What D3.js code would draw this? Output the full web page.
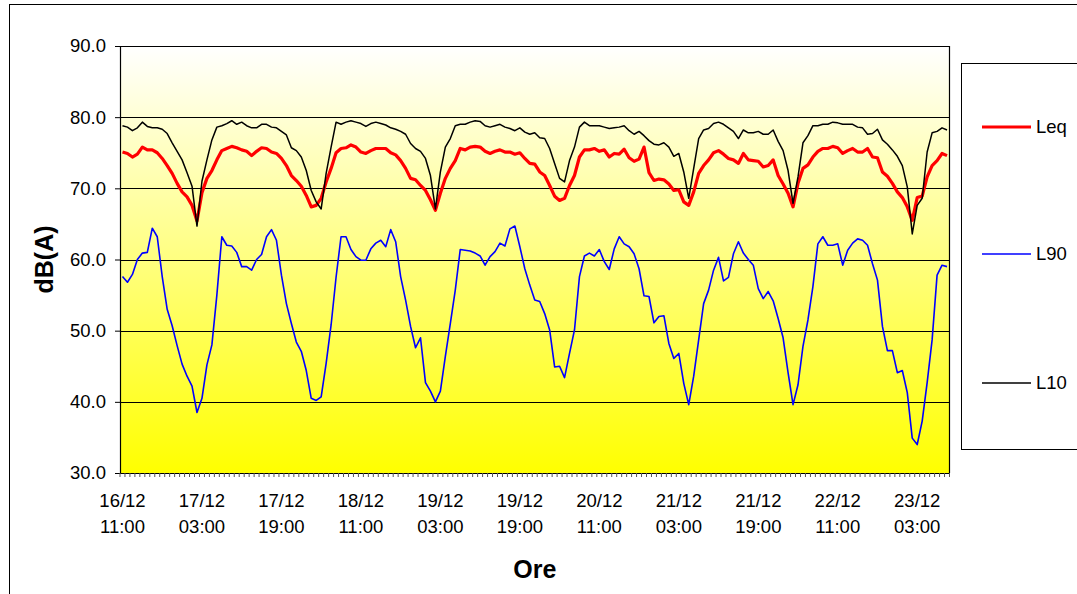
<!DOCTYPE html>
<html>
<head>
<meta charset="utf-8">
<script src="https://cdn.jsdelivr.net/npm/d3@7"></script>
<style>
  html, body { margin: 0; padding: 0; background: #ffffff; }
  svg { display: block; font-family: "Liberation Sans", Arial, sans-serif; }
</style>
</head>
<body>
<svg id="chart" width="1077" height="594"></svg>
<script>
// Hourly noise levels, dB(A)
const seriesNames = ["Leq", "L90", "L10"];
const seriesColors = ["#FF0000", "#0000FF", "#000000"];
const seriesWidths = [3.2, 1.6, 1.5];

const leq = [
  75.1, 74.9, 74.4, 74.8, 75.8, 75.4, 75.4, 75.0, 74.2, 73.2,
  72.1, 70.7, 69.5, 68.8, 67.6, 65.4, 69.4, 71.4, 72.5, 74.0,
  75.3, 75.6, 75.9, 75.7, 75.4, 75.2, 74.6, 75.2, 75.7, 75.6,
  75.1, 74.9, 74.2, 73.2, 71.8, 71.1, 70.3, 69.0, 67.4, 67.6,
  68.6, 70.9, 72.8, 75.0, 75.6, 75.7, 76.1, 75.8, 75.1, 74.9,
  75.3, 75.6, 75.6, 75.6, 75.0, 74.7, 73.9, 72.8, 71.4, 71.2,
  70.4, 69.7, 68.4, 66.9, 69.3, 71.4, 72.8, 73.9, 75.6, 75.4,
  75.8, 75.9, 75.8, 75.2, 74.9, 75.2, 75.4, 75.1, 75.1, 74.8,
  75.0, 74.2, 73.5, 73.4, 72.3, 71.8, 70.4, 68.9, 68.3, 68.6,
  70.4, 71.8, 74.4, 75.4, 75.4, 75.6, 75.2, 75.4, 74.4, 74.9,
  74.8, 75.5, 74.3, 73.8, 74.1, 75.8, 72.2, 71.1, 71.3, 71.2,
  70.6, 69.7, 69.8, 68.1, 67.6, 69.5, 72.1, 73.2, 74.0, 75.0,
  75.3, 74.8, 74.2, 74.0, 73.5, 74.9, 74.0, 73.9, 73.8, 73.0,
  73.2, 74.0, 71.8, 70.6, 69.3, 67.4, 70.7, 72.8, 73.3, 74.4,
  75.2, 75.6, 75.6, 75.9, 75.7, 74.9, 75.3, 75.6, 75.1, 75.1,
  75.6, 74.4, 74.3, 72.3, 71.7, 70.7, 69.5, 68.7, 67.4, 65.5,
  68.7, 68.9, 71.6, 73.2, 73.9, 74.9, 74.6
];

const l90 = [
  57.6, 56.8, 57.9, 60.0, 60.9, 61.0, 64.4, 63.2, 57.6, 53.0,
  50.7, 47.9, 45.3, 43.6, 42.2, 38.5, 40.5, 45.2, 48.0, 55.0,
  63.2, 62.0, 61.9, 61.0, 59.0, 59.0, 58.5, 60.0, 60.7, 63.2,
  64.2, 62.7, 57.8, 53.8, 51.0, 48.4, 47.1, 44.4, 40.5, 40.2,
  40.7, 45.4, 50.8, 57.5, 63.2, 63.2, 61.4, 60.4, 59.9, 59.9,
  61.5, 62.3, 62.7, 61.8, 64.2, 62.5, 57.6, 54.3, 50.6, 47.6,
  49.0, 42.7, 41.5, 40.0, 41.5, 46.4, 51.0, 55.7, 61.4, 61.3,
  61.2, 60.9, 60.5, 59.2, 60.4, 61.1, 62.3, 61.9, 64.3, 64.7,
  61.8, 58.7, 56.4, 54.3, 54.1, 52.4, 50.1, 44.9, 45.0, 43.4,
  46.8, 50.1, 57.6, 60.5, 60.9, 60.5, 61.4, 59.7, 58.6, 61.5,
  63.2, 62.2, 61.8, 60.8, 58.7, 54.9, 54.8, 51.1, 52.0, 52.1,
  48.2, 46.1, 46.8, 42.6, 39.6, 43.6, 48.7, 53.8, 55.7, 58.5,
  60.3, 57.0, 57.5, 60.8, 62.5, 60.9, 60.0, 59.2, 55.9, 54.5,
  55.5, 54.2, 51.7, 49.0, 44.1, 39.6, 42.4, 47.8, 51.5, 56.2,
  62.2, 63.2, 62.0, 62.0, 62.2, 59.2, 61.3, 62.3, 62.9, 62.7,
  62.0, 59.4, 57.1, 50.6, 47.2, 47.2, 44.1, 44.4, 41.3, 34.9,
  34.0, 37.3, 42.7, 48.7, 57.8, 59.2, 59.0
];

const l10 = [
  78.8, 78.6, 78.1, 78.5, 79.3, 78.7, 78.5, 78.5, 78.3, 77.7,
  76.4, 75.2, 74.0, 72.2, 70.3, 64.7, 71.0, 74.0, 76.8, 78.6,
  78.8, 79.1, 79.5, 79.0, 79.3, 78.8, 78.5, 78.5, 79.0, 79.0,
  78.6, 78.5, 78.0, 77.5, 75.7, 75.3, 74.4, 72.5, 69.7, 68.1,
  67.1, 72.1, 75.8, 79.3, 79.0, 79.3, 79.5, 79.3, 79.1, 78.7,
  79.1, 79.3, 79.1, 78.9, 78.5, 78.3, 78.0, 77.6, 76.3, 75.6,
  75.2, 74.2, 71.8, 67.1, 72.3, 75.8, 77.0, 78.8, 79.0, 79.0,
  79.3, 79.5, 79.4, 78.8, 78.6, 78.8, 79.0, 78.6, 78.4, 78.1,
  78.5, 77.9, 77.6, 77.8, 77.1, 77.0, 75.6, 73.5, 71.4, 70.9,
  73.9, 75.8, 78.6, 79.3, 78.8, 78.8, 78.8, 78.6, 78.4, 78.5,
  78.6, 78.8, 78.1, 77.6, 78.0, 77.4, 76.7, 76.2, 76.1, 76.4,
  75.8, 74.5, 74.9, 72.3, 68.6, 72.8, 77.0, 78.2, 78.4, 79.1,
  79.3, 79.0, 78.5, 78.0, 77.0, 78.2, 77.8, 77.8, 78.0, 77.6,
  77.6, 78.2, 76.6, 75.3, 72.5, 67.9, 71.6, 76.4, 77.4, 78.8,
  78.8, 79.0, 79.0, 79.3, 79.2, 79.0, 79.0, 79.0, 78.6, 78.5,
  77.6, 77.7, 78.3, 76.8, 76.2, 75.4, 74.5, 73.2, 70.2, 63.6,
  67.6, 68.6, 75.1, 77.8, 78.0, 78.5, 78.2
];

const yTicks = [30, 40, 50, 60, 70, 80, 90];
const tickLabels = [
  "16/12 11:00", "17/12 03:00", "17/12 19:00", "18/12 11:00",
  "19/12 03:00", "19/12 19:00", "20/12 11:00", "21/12 03:00",
  "21/12 19:00", "22/12 11:00", "23/12 03:00"
];

// One category per hour, 16/12 11:00 through 23/12 09:00
const fmtCat = d3.timeFormat("%d/%m %H:%M");
const categories = d3.timeHour
  .range(new Date(2008, 11, 16, 11), new Date(2008, 11, 23, 10))
  .map(fmtCat);

const series = [leq, l90, l10];

// ---- layout ----
const svg = d3.select("#chart");
const plot = { left: 120, right: 949.5, top: 46, bottom: 473 };
const fontTick = 18.5;

const x = d3.scaleBand().domain(categories).range([plot.left, plot.right]).padding(0);
const y = d3.scaleLinear().domain([30, 90]).range([plot.bottom, plot.top]);

// chart area border
svg.append("rect")
  .attr("x", 9.5).attr("y", 4.5)
  .attr("width", 1200).attr("height", 700)
  .attr("fill", "#ffffff").attr("stroke", "#000000").attr("stroke-width", 1);

// plot background gradient
const defs = svg.append("defs");
const grad = defs.append("linearGradient")
  .attr("id", "plotFill").attr("x1", 0).attr("y1", 0).attr("x2", 0).attr("y2", 1);
grad.append("stop").attr("offset", "0%").attr("stop-color", "#FFFFFF");
grad.append("stop").attr("offset", "100%").attr("stop-color", "#FFFF00");

svg.append("rect")
  .attr("x", plot.left).attr("y", plot.top)
  .attr("width", plot.right - plot.left).attr("height", plot.bottom - plot.top)
  .attr("fill", "url(#plotFill)");

// horizontal gridlines
svg.append("g")
  .selectAll("line")
  .data(yTicks.filter(v => v > 30))
  .join("line")
  .attr("x1", plot.left).attr("x2", plot.right)
  .attr("y1", d => Math.round(y(d)) + 0.5).attr("y2", d => Math.round(y(d)) + 0.5)
  .attr("stroke", "#000000").attr("stroke-width", 1);

// plot border (right side)
svg.append("line")
  .attr("x1", plot.right).attr("x2", plot.right)
  .attr("y1", plot.top).attr("y2", plot.bottom)
  .attr("stroke", "#000000").attr("stroke-width", 1.2);

// ---- y axis ----
const yAxis = d3.axisLeft(y)
  .tickValues(yTicks)
  .tickFormat(d3.format(".1f"))
  .tickSize(5)
  .tickPadding(9);

const gy = svg.append("g")
  .attr("transform", `translate(${plot.left},0)`)
  .call(yAxis);
gy.select(".domain").attr("stroke", "#000000").attr("stroke-width", 1.2);
gy.selectAll(".tick line").attr("stroke", "#000000");
gy.selectAll(".tick text")
  .attr("font-size", fontTick)
  .attr("font-family", "Liberation Sans, Arial, sans-serif")
  .attr("fill", "#000000")
  .attr("x", -14);

// ---- x axis ----
const xAxis = d3.axisBottom(x)
  .tickValues(tickLabels)
  .tickSize(0)
  .tickPadding(0)
  .tickFormat(() => "");

const gx = svg.append("g")
  .attr("transform", `translate(0,${plot.bottom})`)
  .call(xAxis);
gx.select(".domain").attr("stroke", "#000000").attr("stroke-width", 1.2);

gx.selectAll(".tick text").each(function(d) {
  const parts = d.split(" ");
  const t = d3.select(this)
    .attr("font-size", fontTick)
    .attr("font-family", "Liberation Sans, Arial, sans-serif")
    .attr("fill", "#000000")
    .attr("text-anchor", "middle")
    .attr("y", 0).attr("dy", null);
  t.text(null);
  t.append("tspan").attr("x", 0).attr("y", 34).text(parts[0]);
  t.append("tspan").attr("x", 0).attr("y", 60).text(parts[1]);
});

// small tick marks on every category boundary
const boundaries = d3.range(categories.length + 1).map(i => plot.left + i * x.step());
svg.append("g")
  .selectAll("line")
  .data(boundaries)
  .join("line")
  .attr("x1", d => d).attr("x2", d => d)
  .attr("y1", plot.bottom).attr("y2", plot.bottom + 4)
  .attr("stroke", "#555555").attr("stroke-width", 1);

// ---- series lines ----
const line = d3.line()
  .x((d, i) => x(categories[i]) + x.bandwidth() / 2)
  .y(d => y(d));

svg.append("g")
  .selectAll("path")
  .data(series)
  .join("path")
  .attr("d", d => line(d))
  .attr("fill", "none")
  .attr("stroke", (d, i) => seriesColors[i])
  .attr("stroke-width", (d, i) => seriesWidths[i])
  .attr("stroke-linejoin", "round");

// ---- axis titles ----
svg.append("text")
  .attr("transform", `translate(53,${(plot.top + plot.bottom) / 2}) rotate(-90)`)
  .attr("text-anchor", "middle")
  .attr("font-size", 25).attr("font-weight", "bold")
  .attr("fill", "#000000")
  .text("dB(A)");

svg.append("text")
  .attr("x", (plot.left + plot.right) / 2).attr("y", 578)
  .attr("text-anchor", "middle")
  .attr("font-size", 25).attr("font-weight", "bold")
  .attr("fill", "#000000")
  .text("Ore");

// ---- legend ----
const legend = svg.append("g");
legend.append("rect")
  .attr("x", 961.5).attr("y", 63.5)
  .attr("width", 200).attr("height", 386)
  .attr("fill", "#ffffff").attr("stroke", "#000000").attr("stroke-width", 1);

const legendY = [127, 254, 383];
const items = legend.selectAll("g.item")
  .data(seriesNames)
  .join("g")
  .attr("class", "item")
  .attr("transform", (d, i) => `translate(0,${legendY[i]})`);
items.append("line")
  .attr("x1", 982).attr("x2", 1031)
  .attr("y1", 0).attr("y2", 0)
  .attr("stroke", (d, i) => seriesColors[i])
  .attr("stroke-width", (d, i) => seriesWidths[i]);
items.append("text")
  .attr("x", 1036).attr("y", 0).attr("dy", "0.35em")
  .attr("font-size", fontTick)
  .attr("fill", "#000000")
  .text(d => d);
</script>
</body>
</html>
